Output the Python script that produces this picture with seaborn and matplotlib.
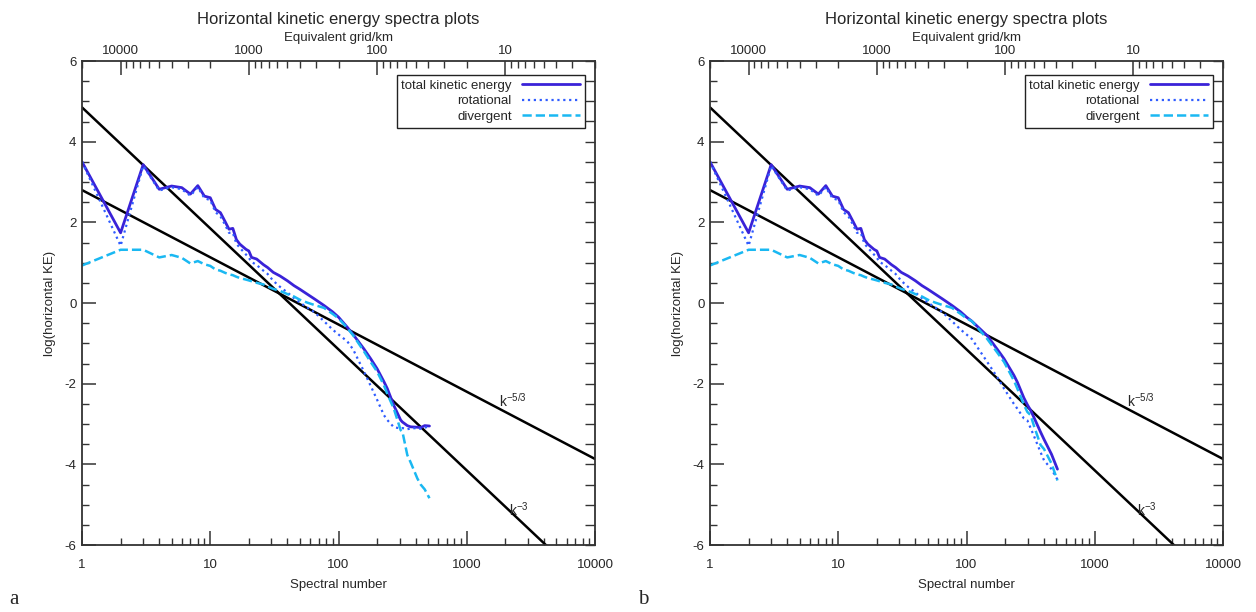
import numpy as np
import pandas as pd
import matplotlib
matplotlib.use("Agg")
import matplotlib.pyplot as plt
import matplotlib.ticker as mticker
import seaborn as sns

# spectral numbers and log10(KE); low-k part shared by both panels
k_common = [1, 2, 3, 4, 5, 6, 7, 8, 9, 10, 11, 12, 13, 14, 15, 16, 17, 19, 20, 21,
            23, 26, 28, 31, 35, 40, 45, 50, 57, 65, 77, 90, 100]
total_common = [3.50, 1.74, 3.43, 2.82, 2.90, 2.86, 2.70, 2.91, 2.65, 2.61, 2.32, 2.24, 2.03, 1.83,
                1.85, 1.57, 1.46, 1.33, 1.29, 1.13, 1.09, 0.95, 0.88, 0.76, 0.67, 0.55, 0.43,
                0.34, 0.22, 0.10, -0.06, -0.22, -0.35]
rot_common = [3.50, 1.42, 3.40, 2.79, 2.87, 2.82, 2.66, 2.87, 2.60, 2.55, 2.25, 2.15, 1.95, 1.74,
              1.74, 1.47, 1.37, 1.20, 1.12, 1.02, 0.94, 0.80, 0.72, 0.55, 0.40, 0.26, 0.12,
              0.01, -0.11, -0.23, -0.45, -0.66, -0.78]
div_common = [0.93, 1.32, 1.32, 1.13, 1.19, 1.12, 0.98, 1.04, 0.96, 0.92, 0.83, 0.80, 0.75, 0.71,
              0.69, 0.65, 0.62, 0.58, 0.56, 0.54, 0.50, 0.46, 0.41, 0.35, 0.30, 0.22, 0.16,
              0.08, 0.01, -0.05, -0.12, -0.27, -0.38]

# panel a tails
k_tail_a = [117, 130, 158, 178, 200, 226, 240, 270, 305, 315, 344, 365, 412, 437, 470, 512]
total_tail_a = [-0.60, -0.78, -1.14, -1.38, -1.63, -1.95, -2.12, -2.54, -2.90, -2.95, -3.04,
                -3.07, -3.08, -3.09, -3.04, -3.05]
rot_tail_a = [-0.95, -1.15, -1.70, -2.05, -2.40, -2.78, -2.90, -3.08, -3.11, -3.10, -3.13,
              -3.11, -3.10, -3.12, -3.09, -3.06]
div_tail_a = [-0.62, -0.80, -1.20, -1.46, -1.70, -2.04, -2.25, -2.62, -3.15, -3.19, -3.77,
              -3.95, -4.35, -4.50, -4.62, -4.84]

# panel b tails
k_tail_b = [110, 145, 173, 196, 234, 249, 280, 298, 316, 336, 378, 402, 460, 512]
total_tail_b = [-0.45, -0.81, -1.14, -1.38, -1.79, -1.96, -2.35, -2.52, -2.66, -2.84,
                -3.20, -3.38, -3.75, -4.12]
rot_tail_b = [-0.89, -1.46, -1.83, -2.12, -2.50, -2.62, -2.86, -2.91, -3.10, -3.30,
              -3.70, -3.90, -4.12, -4.38]
div_tail_b = [-0.45, -0.89, -1.22, -1.46, -1.92, -2.12, -2.52, -2.70, -2.78, -3.05,
              -3.52, -3.62, -3.98, -4.40]

# reference power laws: log10 KE = intercept + slope * log10 k
ref_slopes = [-5.0 / 3.0, -3.0]
ref_intercepts = [2.80, 4.85]
ref_labels = ["k$^{-5/3}$", "k$^{-3}$"]
ref_label_pos = [(2300, -2.42), (2550, -5.12)]

grid_ticks = [10, 100, 1000, 10000]

series_names = ["total kinetic energy", "rotational", "divergent"]
series_colors = ["#3a22d8", "#2f5cff", "#1ab8f2"]
series_styles = ["-", ":", "--"]
series_widths = [2.0, 1.6, 1.8]

sns.set_style("ticks")
plt.rcParams["font.family"] = ["Liberation Sans", "DejaVu Sans"]
plt.rcParams["mathtext.default"] = "regular"
plt.rcParams["axes.unicode_minus"] = False

fig = plt.figure(figsize=(12.56, 6.12), dpi=100)
W, H = 1256, 612
axes_left = [82, 710]


def k_to_km(k):
    k = np.asarray(k, dtype=float)
    with np.errstate(divide="ignore"):
        return 20000.0 / np.where(k <= 0, 1e-12, k)


def draw_panel(ax, k_tail, tails, letter, x0):
    k = k_common + k_tail
    curves = [total_common + tails[0], rot_common + tails[1], div_common + tails[2]]
    for name, vals, col, ls, lw in zip(series_names, curves, series_colors, series_styles, series_widths):
        df = pd.DataFrame({"k": k, "ke": vals})
        sns.lineplot(data=df, x="k", y="ke", ax=ax, color=col, linestyle=ls, linewidth=lw,
                     label=name, sort=False)

    ax.set_xscale("log")
    ax.set_xlim(1, 10000)
    ax.set_ylim(-6, 6)

    kk = np.array([1.0, 10000.0])
    for s, b in zip(ref_slopes, ref_intercepts):
        ax.plot(kk, b + s * np.log10(kk), color="black", lw=1.8, zorder=1)
    for lab, (xp, yp) in zip(ref_labels, ref_label_pos):
        ax.text(xp, yp, lab, fontsize=10, ha="center", va="center")

    for sp in ax.spines.values():
        sp.set_color("#333333")
        sp.set_linewidth(1.3)

    ax.yaxis.set_major_locator(mticker.MultipleLocator(2))
    ax.yaxis.set_minor_locator(mticker.MultipleLocator(0.5))
    ax.xaxis.set_major_locator(mticker.LogLocator(base=10, numticks=10))
    ax.xaxis.set_minor_locator(mticker.LogLocator(base=10, subs=np.arange(2, 10), numticks=50))
    ax.xaxis.set_major_formatter(mticker.FuncFormatter(lambda v, p: f"{v:g}"))
    ax.xaxis.set_minor_formatter(mticker.NullFormatter())
    ax.tick_params(axis="both", which="both", direction="in", color="#333333",
                   labelsize=9.5, top=False, right=False)
    ax.tick_params(axis="both", which="major", length=10, width=1.1)
    ax.tick_params(axis="both", which="minor", length=5, width=1.0)
    ax.tick_params(axis="x", pad=10)
    ax.tick_params(axis="y", pad=4)
    ax.set_xlabel("Spectral number", fontsize=9.5, labelpad=6)
    ax.set_ylabel("log(horizontal KE)", fontsize=9.5, labelpad=6)

    # mirrored ticks on the right side
    rax = ax.secondary_yaxis("right")
    rax.yaxis.set_major_locator(mticker.MultipleLocator(0.5))
    rax.tick_params(direction="in", length=7, width=1.0, color="#333333", labelright=False)
    rax.spines["right"].set_visible(False)

    # equivalent grid length on top
    tax = ax.secondary_xaxis("top", functions=(k_to_km, k_to_km))
    minor_grid = [m * d for d in [1, 10, 100, 1000, 10000] for m in range(2, 10) if 2 <= m * d <= 20000]
    tax.xaxis.set_major_locator(mticker.FixedLocator(grid_ticks))
    tax.xaxis.set_minor_locator(mticker.FixedLocator(minor_grid))
    tax.xaxis.set_major_formatter(mticker.FuncFormatter(lambda v, p: f"{v:g}"))
    tax.xaxis.set_minor_formatter(mticker.NullFormatter())
    tax.tick_params(which="both", direction="in", color="#333333", labelsize=9.5, pad=3)
    tax.tick_params(which="major", length=10, width=1.1)
    tax.tick_params(which="minor", length=5, width=1.0)
    tax.spines["top"].set_visible(False)
    tax.set_xlabel("Equivalent grid/km", fontsize=9.5, labelpad=3)

    ax.text(0.5, 1.085, "Horizontal kinetic energy spectra plots", transform=ax.transAxes,
            ha="center", va="center", fontsize=12)

    leg = ax.legend(loc="upper right", bbox_to_anchor=(0.9805, 0.971), borderaxespad=0,
                    markerfirst=False, frameon=True, fancybox=False, framealpha=1,
                    edgecolor="#222222", fontsize=9.5, handlelength=4.4, handletextpad=0.8,
                    labelspacing=0.25, borderpad=0.35)
    leg.get_frame().set_linewidth(1.0)

    fig.text(x0 / W, 1 - 599 / H, letter, fontsize=15, family=["Liberation Serif"],
             ha="left", va="center")


ax_a = fig.add_axes([axes_left[0] / W, 67 / H, 513 / W, 484 / H])
ax_b = fig.add_axes([axes_left[1] / W, 67 / H, 513 / W, 484 / H])
draw_panel(ax_a, k_tail_a, [total_tail_a, rot_tail_a, div_tail_a], "a", 9)
draw_panel(ax_b, k_tail_b, [total_tail_b, rot_tail_b, div_tail_b], "b", 638)

fig.savefig("out.png", dpi=100)
